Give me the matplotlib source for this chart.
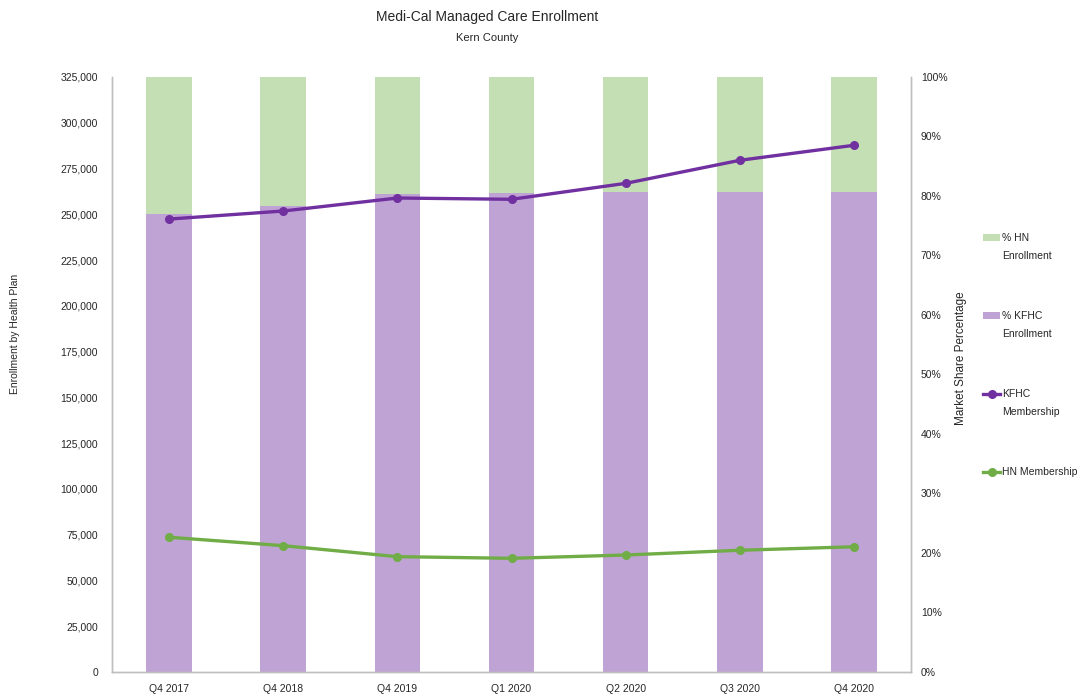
import matplotlib
matplotlib.use("Agg")
import matplotlib.pyplot as plt
from matplotlib.ticker import FuncFormatter, MultipleLocator
from matplotlib.lines import Line2D
from matplotlib.patches import Rectangle

# Quarterly data
quarters = ["Q4 2017", "Q4 2018", "Q4 2019", "Q1 2020", "Q2 2020", "Q3 2020", "Q4 2020"]
kfhc_share = [0.770, 0.783, 0.803, 0.805, 0.806, 0.807, 0.807]
hn_share = [1 - s for s in kfhc_share]
kfhc_members = [247400, 251800, 258900, 258200, 266900, 279500, 287700]
hn_members = [73600, 69000, 63000, 62100, 63900, 66500, 68400]

FONT = ["Liberation Sans", "DejaVu Sans"]
PURPLE_BAR = "#C0A3D5"
GREEN_BAR = "#C5DFB4"
PURPLE_LINE = "#7030A0"
GREEN_LINE = "#70AD47"
SPINE = "#BFBFBF"
TEXT = "#262626"
W, H = 1080, 698

fig = plt.figure(figsize=(W / 100, H / 100), dpi=100)
ax = fig.add_axes([112 / W, 1 - 672 / H, (911 - 112) / W, (672 - 77) / H])
ax2 = ax.twinx()

x = list(range(len(quarters)))

# Stacked market-share bars on the percentage axis
ax2.bar(x, kfhc_share, width=0.4, color=PURPLE_BAR, zorder=1)
ax2.bar(x, hn_share, width=0.4, bottom=kfhc_share, color=GREEN_BAR, zorder=1)
ax2.set_ylim(0, 1)
ax2.yaxis.set_major_locator(MultipleLocator(0.1))
ax2.yaxis.set_major_formatter(FuncFormatter(lambda v, p: f"{v * 100:.0f}%"))

# Membership lines on the enrollment axis, drawn above the bars
ax.set_zorder(ax2.get_zorder() + 1)
ax.patch.set_visible(False)
ax.plot(x, kfhc_members, color=PURPLE_LINE, lw=2.4, marker="o", ms=5.5, zorder=3)
ax.plot(x, hn_members, color=GREEN_LINE, lw=2.4, marker="o", ms=5.5, zorder=3)
ax.set_ylim(0, 325000)
ax.yaxis.set_major_locator(MultipleLocator(25000))
ax.yaxis.set_major_formatter(FuncFormatter(lambda v, p: f"{v:,.0f}"))
ax.set_xlim(-0.5, len(quarters) - 0.5)
ax.set_xticks(x)
ax.set_xticklabels(quarters)

for a in (ax, ax2):
    a.tick_params(length=0, colors=TEXT, labelsize=7.5)
    for lab in a.get_xticklabels() + a.get_yticklabels():
        lab.set_family(FONT)
    a.spines["top"].set_visible(False)
    for s in ("left", "right", "bottom"):
        a.spines[s].set_color(SPINE)
        a.spines[s].set_linewidth(1.0)
ax.tick_params(axis="x", pad=9)
ax.tick_params(axis="y", pad=10)
ax2.tick_params(axis="y", pad=7)

# Axis titles
fig.text(15 / W, 1 - 334 / H, "Enrollment by Health Plan", family=FONT,
         fontsize=7.5, color=TEXT, rotation=90, ha="center", va="center")
fig.text(961 / W, 1 - 358 / H, "Market Share Percentage", family=FONT,
         fontsize=8.5, color=TEXT, rotation=90, ha="center", va="center")

fig.text(487 / W, 1 - 17 / H, "Medi-Cal Managed Care Enrollment", family=FONT,
         fontsize=10, color=TEXT, ha="center", va="center")
fig.text(487 / W, 1 - 38 / H, "Kern County", family=FONT,
         fontsize=8, color=TEXT, ha="center", va="center")

# Legend: one entry per row, handle beside the first line of its label
entries = [
    ("bar", GREEN_BAR, ["% HN", "Enrollment"]),
    ("bar", PURPLE_BAR, ["% KFHC", "Enrollment"]),
    ("line", PURPLE_LINE, ["KFHC", "Membership"]),
    ("line", GREEN_LINE, ["HN Membership"]),
]
row_y, row_step, line_step = 238, 78, 18
hx0, hx1, tx = 983, 1000, 1002
for i, (kind, color, lines) in enumerate(entries):
    y = row_y + i * row_step
    if kind == "bar":
        fig.patches.append(Rectangle((hx0 / W, 1 - (y + 3.5) / H), (hx1 - hx0) / W, 7 / H,
                                     transform=fig.transFigure, facecolor=color,
                                     edgecolor="none"))
    else:
        fig.lines.append(Line2D([hx0 / W, hx1 / W], [1 - y / H, 1 - y / H],
                                transform=fig.transFigure, color=color, lw=2.4))
        fig.lines.append(Line2D([(hx0 + hx1) / 2 / W], [1 - y / H],
                                transform=fig.transFigure, color=color, marker="o", ms=5.5))
    for j, txt in enumerate(lines):
        fig.text(tx / W, 1 - (y + j * line_step) / H, txt, family=FONT, fontsize=7.5,
                 color=TEXT, ha="left", va="center")

fig.savefig("out.png", dpi=100)
